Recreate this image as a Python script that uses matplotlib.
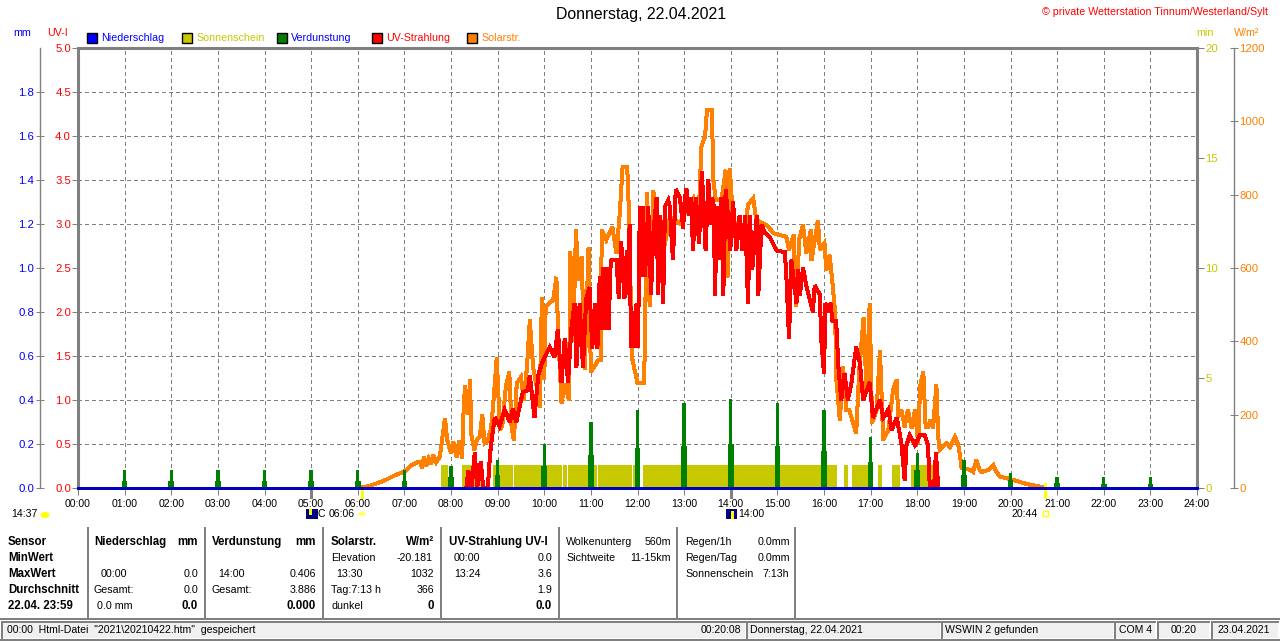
import matplotlib

matplotlib.use("Agg")
import matplotlib.pyplot as plt
from matplotlib.lines import Line2D
from matplotlib.patches import Circle, Ellipse, Rectangle

W, H = 1280, 641
plt.rcParams["font.family"] = ["Liberation Sans", "DejaVu Sans"]
plt.rcParams["font.size"] = 7.7

GRAY = "#808080"
BLUE = "#0000FF"
OLIVE = "#C8C800"
GREEN = "#008000"
RED = "#FF0000"
ORANGE = "#FF8000"

hour_labels = [f"{h:02d}:00" for h in range(25)]
uv_ticks = [0.0, 0.5, 1.0, 1.5, 2.0, 2.5, 3.0, 3.5, 4.0, 4.5, 5.0]
mm_ticks = [0.0, 0.2, 0.4, 0.6, 0.8, 1.0, 1.2, 1.4, 1.6, 1.8]
min_ticks = [0, 5, 10, 15, 20]
solar_ticks = [0, 200, 400, 600, 800, 1000, 1200]

# Niederschlag: no rain all day
rain_hours = [0, 24]
rain_mm = [0.0, 0.0]

# Sonnenschein blocks, start / end in hours, minutes of sun per minute
sun_start = [7.78, 8.24, 8.90, 9.35, 10.40, 10.51, 11.15, 11.90, 12.12, 16.43, 16.60, 17.16, 17.46, 17.86]
sun_end = [7.93, 8.69, 9.33, 10.38, 10.49, 11.13, 11.88, 12.05, 16.28, 16.51, 16.98, 17.24, 17.63, 18.46]
sun_min = [1.05] * 14

# Verdunstung: narrow hourly spike and wider low foot
verd_hours = list(range(1, 24))
verd_top = [0.08, 0.08, 0.08, 0.08, 0.08, 0.08, 0.08, 0.10, 0.127, 0.20, 0.30, 0.355, 0.386,
            0.406, 0.386, 0.355, 0.23, 0.16, 0.127, 0.07, 0.05, 0.05, 0.05]
verd_foot = [0.03, 0.03, 0.03, 0.03, 0.03, 0.03, 0.03, 0.05, 0.06, 0.10, 0.15, 0.18, 0.19,
             0.20, 0.19, 0.17, 0.12, 0.08, 0.06, 0.035, 0.025, 0.02, 0.02]

solar_h = [6.0, 6.2, 6.4, 6.6, 6.8, 7.0, 7.15, 7.3, 7.33, 7.38, 7.42, 7.47, 7.52, 7.57, 7.62, 7.68, 7.73, 7.76,
           7.87, 7.92, 8.0, 8.05,
           8.12, 8.18, 8.24, 8.26, 8.3, 8.36, 8.41, 8.43, 8.5, 8.55, 8.62, 8.67, 8.72, 8.79, 8.86, 8.92, 8.98,
           9.05, 9.1, 9.18, 9.25, 9.3, 9.35, 9.41, 9.5, 9.56, 9.63, 9.69, 9.76, 9.84, 9.9, 9.95, 10.0, 10.03,
           10.19, 10.26, 10.3, 10.37, 10.44, 10.53, 10.56, 10.62, 10.68, 10.73, 10.8, 10.87, 10.95, 11.0, 11.16,
           11.22, 11.23, 11.33, 11.46, 11.55, 11.62, 11.68, 11.78, 11.82, 11.88, 12.0, 12.14, 12.16, 12.2, 12.26,
           12.34, 12.48, 12.7, 12.9, 13.1, 13.2, 13.3, 13.37, 13.45, 13.49, 13.6, 13.62, 13.68, 13.8, 13.89,
           13.93, 13.98, 14.05, 14.3, 14.37, 14.48, 14.55, 14.77, 14.92, 15.19, 15.25, 15.35, 15.4, 15.47, 15.55,
           15.62, 15.72, 15.73, 15.87, 15.91, 16.01, 16.05, 16.12, 16.19, 16.24, 16.26, 16.34, 16.41, 16.48,
           16.54, 16.69, 16.76, 16.85, 16.91, 16.98, 17.03,
           17.13, 17.2, 17.27, 17.38, 17.48, 17.56, 17.59, 17.66, 17.73, 17.8,
           17.88, 17.95, 18.02, 18.06, 18.13, 18.18, 18.23, 18.28, 18.34, 18.41,
           18.45, 18.48, 18.63, 18.7, 18.81, 18.88, 18.91, 18.95, 19.02, 19.13,
           19.2, 19.27, 19.34, 19.38, 19.52, 19.63, 19.7, 19.77, 19.98, 20.34,
           20.66, 20.73]
solar_w = [0, 4, 12, 22, 35, 45, 62, 72, 72, 55, 84, 60, 80, 65, 90, 70, 80, 85,
           190, 130, 95, 125,
           85, 130, 80, 185, 280, 200, 295, 150, 104, 130, 140, 200, 122, 130, 163, 250, 355,
           158, 170, 280, 316, 163, 130, 286, 303, 240, 330, 458, 330, 275, 220, 520, 295, 494,
           513, 575, 422, 232, 283, 240, 644, 400, 704, 567, 630, 322, 657, 316, 349,
           349, 704, 676, 712, 640, 750, 875, 875, 740, 357, 286, 286, 404, 805, 494,
           812, 600, 740, 722, 770, 790, 700, 930, 960, 1030, 1030, 848, 785, 785, 867,
           575, 870, 730, 700, 772, 790, 730, 717, 695, 685, 650, 690, 494, 680, 717,
           640, 704, 620, 730, 650, 668, 594, 635, 548, 477, 303, 185, 330, 213,
           213, 150, 330, 466, 270, 504, 177,
           213, 376, 131, 158, 267, 295, 195, 213, 167, 213,
           163, 213, 122, 276, 317, 167, 167, 185, 163, 281,
           139, 104, 122, 112, 139, 117, 95, 54, 54, 49,
           44, 76, 49, 44, 49, 63, 44, 31, 25, 11,
           3, 0]

uv_h = [8.33, 8.37, 8.44, 8.51, 8.56, 8.64, 8.69, 8.79, 8.84, 8.89,
        8.94, 9.04, 9.15, 9.26, 9.33, 9.4, 9.47, 9.54, 9.65, 9.69,
        9.79, 9.87, 9.94, 10.01, 10.12, 10.22, 10.29, 10.37, 10.44, 10.51,
        10.58, 10.65, 10.69, 10.76, 10.83, 10.9, 10.97, 11.03, 11.09, 11.14,
        11.19, 11.22, 11.26, 11.3, 11.34, 11.38, 11.42, 11.44, 11.55, 11.6,
        11.65, 11.72, 11.77, 11.8, 11.83, 11.86, 11.9, 11.94, 11.98, 12.01,
        12.05, 12.08, 12.11, 12.16, 12.23, 12.29, 12.34, 12.41, 12.44, 12.49,
        12.55, 12.59, 12.66, 12.69, 12.76, 12.82, 12.91, 12.98, 13.0, 13.02,
        13.05, 13.1, 13.15, 13.19, 13.25, 13.32, 13.38, 13.46, 13.52, 13.56,
        13.6, 13.64, 13.66, 13.71, 13.76, 13.8, 13.84, 13.89, 13.94, 13.99,
        14.05, 14.12, 14.19, 14.25, 14.31, 14.37, 14.41, 14.46, 14.56, 14.59,
        14.66, 14.73, 14.84, 14.98, 15.16, 15.19, 15.25, 15.3, 15.41, 15.44,
        15.48, 15.55, 15.62, 15.76, 15.8, 15.91, 15.94, 16.0, 16.03, 16.09,
        16.14, 16.18, 16.26, 16.31, 16.37, 16.44, 16.51, 16.59, 16.69, 16.77,
        16.84, 16.98, 17.05, 17.2, 17.27, 17.38, 17.45, 17.56, 17.66, 17.73,
        17.77, 17.84, 17.95, 18.06, 18.16, 18.23, 18.27, 18.36, 18.4, 18.45]
uv_i = [0.0, 0.2, 0.0, 0.4, 0.0, 0.3, 0.0, 0.0, 0.4, 0.62,
        0.8, 0.7, 0.89, 0.75, 0.9, 0.75, 0.92, 1.09, 1.11, 1.28,
        0.8, 1.28, 1.4, 1.49, 1.6, 1.49, 1.8, 1.2, 1.7, 1.2,
        1.8, 2.1, 1.37, 2.1, 1.37, 2.15, 2.28, 1.59, 2.1, 1.59,
        2.4, 1.8, 2.5, 1.8, 2.5, 1.8, 2.5, 2.59, 2.59, 2.15,
        2.8, 2.15, 2.7, 2.2, 2.99, 1.6, 2.0, 1.6, 2.1, 1.6,
        3.2, 2.4, 3.2, 2.4, 3.2, 2.2, 2.9, 3.3, 2.2, 3.1,
        2.1, 3.2, 3.27, 3.2, 2.6, 3.39, 3.3, 2.95, 3.2, 3.3,
        3.4, 3.1, 3.3, 2.7, 3.3, 2.78, 3.6, 2.7, 3.5, 3.0,
        3.3, 3.2, 2.19, 3.2, 2.6, 3.3, 2.19, 3.39, 3.1, 2.7,
        3.25, 2.7, 3.1, 2.7, 3.1, 2.1, 3.1, 2.48, 3.1, 2.19,
        2.99, 2.9, 2.85, 2.7, 2.68, 2.44, 1.7, 2.59, 2.1, 2.48,
        2.19, 2.5, 2.3, 2.0, 2.3, 2.2, 1.7, 1.3, 2.1, 2.0,
        2.1, 1.9, 1.9, 1.37, 1.0, 1.3, 1.0, 1.2, 1.6, 1.42,
        1.0, 1.2, 0.8, 1.0, 0.8, 0.89, 0.66, 0.8, 0.51, 0.09,
        0.49, 0.6, 0.49, 0.6, 0.6, 0.49, 0.0, 0.0, 0.4, 0.0]


def fx(x):
    return x / W


def fy(y):
    return 1 - y / H


def label(x, y, s, **kw):
    fig.text(fx(x), fy(y), s, va="center", **kw)


def seg(x0, y0, x1, y1, color=GRAY, lw=1.44, **kw):
    fig.add_artist(Line2D([fx(x0), fx(x1)], [fy(y0), fy(y1)], color=color, lw=lw, antialiased=False, **kw))


def box(x0, y0, x1, y1, fc, ec="none", lw=0.72):
    fig.add_artist(Rectangle((fx(x0), fy(y1)), (x1 - x0) / W, (y1 - y0) / H, fc=fc, ec=ec, lw=lw,
                             transform=fig.transFigure))


fig = plt.figure(figsize=(W / 100, H / 100), dpi=100)
ax_min = fig.add_axes([fx(78), fy(488), (1197 - 78) / W, (488 - 48) / H])
ax_w = ax_min.twinx()
ax_uv = ax_min.twinx()
ax_mm = ax_min.twinx()
for z, a in enumerate([ax_min, ax_w, ax_uv, ax_mm]):
    a.set_zorder(z)
    a.set_xlim(0, 24)
    if z:
        a.patch.set_visible(False)
        for s in a.spines.values():
            s.set_visible(False)

ax_min.set_ylim(0, 20)
ax_w.set_ylim(0, 1200)
ax_uv.set_ylim(0, 5)
ax_mm.set_ylim(0, 2)

# frame and grid, the horizontal grid follows the UV scale and not the min ticks
for name in ["left", "top", "right"]:
    ax_min.spines[name].set_color(GRAY)
    ax_min.spines[name].set_linewidth(2.2)
ax_min.spines["bottom"].set_visible(False)
ax_min.set_xticks(range(25))
ax_min.set_xticklabels(hour_labels)
ax_min.tick_params(axis="x", length=5, width=0.72, color=GRAY, pad=3, labelsize=7.6)
ax_min.set_yticks(min_ticks)
ax_min.set_yticks([2, 4, 6, 8, 10, 12, 14, 16, 18], minor=True)
ax_min.yaxis.tick_right()
ax_min.tick_params(axis="y", which="major", length=5, width=0.72, color=GRAY, labelcolor=OLIVE, pad=1, labelsize=8.2)
ax_min.tick_params(axis="y", which="minor", length=0)
ax_min.grid(True, axis="x", color=GRAY, lw=0.72, ls=(0, (4, 3)), antialiased=False)
ax_min.grid(True, axis="y", which="minor", color=GRAY, lw=0.72, ls=(0, (4, 3)), antialiased=False)
ax_min.set_axisbelow(True)

ax_w.set_yticks(solar_ticks)
ax_w.spines["right"].set_visible(True)
ax_w.spines["right"].set_position(("outward", 26.6))
ax_w.spines["right"].set_color(GRAY)
ax_w.spines["right"].set_linewidth(1.0)
ax_w.tick_params(axis="y", direction="inout", length=6, width=0.72, color=GRAY, labelcolor=ORANGE, pad=1, labelsize=8.2)

ax_uv.yaxis.tick_left()
ax_uv.set_yticks(uv_ticks)
ax_uv.set_yticklabels([f"{v:.1f}" for v in uv_ticks])
ax_uv.tick_params(axis="y", length=4, width=0.72, color=GRAY, labelcolor=RED, pad=1, labelsize=8.2)

ax_mm.yaxis.tick_left()
ax_mm.set_yticks(mm_ticks)
ax_mm.set_yticklabels([f"{v:.1f}" for v in mm_ticks])
ax_mm.spines["left"].set_visible(True)
ax_mm.spines["left"].set_position(("outward", 27.4))
ax_mm.spines["left"].set_color(GRAY)
ax_mm.spines["left"].set_linewidth(1.0)
ax_mm.tick_params(axis="y", direction="inout", length=6, width=0.72, color=GRAY, labelcolor=BLUE, pad=1, labelsize=8.2)

# series
widths = [e - s for s, e in zip(sun_start, sun_end)]
ax_min.bar(sun_start, sun_min, width=widths, align="edge", color=OLIVE, lw=0, zorder=2)
ax_w.plot(solar_h, solar_w, color=ORANGE, lw=2.16, antialiased=False, solid_joinstyle="miter")
ax_uv.plot(uv_h, uv_i, color=RED, lw=2.16, antialiased=False, solid_joinstyle="miter")
ax_mm.bar(verd_hours, verd_top, width=0.075, color=GREEN, lw=0)
ax_mm.bar(verd_hours, verd_foot, width=0.12, color=GREEN, lw=0)
ax_mm.plot(rain_hours, rain_mm, color="#0000C0", lw=1.0, antialiased=False, clip_on=False)

# header
label(641, 15, "Donnerstag, 22.04.2021", ha="center", fontsize=11.4)
label(1268, 12, "© private Wetterstation Tinnum/Westerland/Sylt", ha="right", color=RED, fontsize=7.65)
label(22, 33, "mm", ha="center", color=BLUE)
label(57, 33, "UV-I", ha="center", color=RED)
label(1205, 33, "min", ha="center", color=OLIVE)
label(1247, 33, "W/m²", ha="center", color=ORANGE)

legend_names = ["Niederschlag", "Sonnenschein", "Verdunstung", "UV-Strahlung", "Solarstr."]
legend_boxes = [BLUE, OLIVE, GREEN, RED, ORANGE]
legend_texts = [BLUE, OLIVE, BLUE, RED, ORANGE]
for i, name in enumerate(legend_names):
    x = 87 + 95 * i
    box(x, 33, x + 10, 43, legend_boxes[i], ec="black", lw=1.0)
    label(x + 14, 38, name, color=legend_texts[i])

# sun / moon markers below the axis
label(11, 514, "14:37", fontsize=7.6)
fig.add_artist(Ellipse((fx(45), fy(515)), 9 / W, 6 / H, fc="#FFFF00", ec="none", transform=fig.transFigure))
box(306, 509, 318, 519, "#000080")
box(309, 509, 312, 515, "#FFFF00")
label(318, 514, "C", fontsize=7.6)
label(329, 514, "06:06", fontsize=7.6)
fig.add_artist(Circle((fx(362), fy(514)), 4 / W, fc="#FFFF60", ec="none", transform=fig.transFigure))
box(726, 509, 737, 519, "#000080")
box(731, 511, 734, 519, "#FFFF00")
label(738, 514, "14:00", fontsize=7.6)
label(1012, 514, "20:44", fontsize=7.6)
box(1043, 511, 1048, 516, "white", ec="#FFFF00", lw=1.0)
seg(1045, 484, 1045, 497, color="#FFFF00", lw=0.9)
seg(311, 488, 311, 497, lw=2.0)
seg(362, 488, 362, 497, color="#FFFF00", lw=0.9)
seg(731, 488, 731, 497, lw=2.0)

# summary table
for x in [88, 205, 323, 441, 559, 677, 795]:
    seg(x, 528, x, 617)
rows = [542, 558, 574, 590, 606]
for y, s in zip(rows, ["Sensor", "MinWert", "MaxWert", "Durchschnitt", "22.04. 23:59"]):
    label(8, y, s, fontweight="bold", fontsize=8.3)

bold_cells = [(94, 0, "Niederschlag", "left"), (198, 0, "mm", "right"), (212, 0, "Verdunstung", "left"),
              (316, 0, "mm", "right"), (331, 0, "Solarstr.", "left"), (434, 0, "W/m²", "right"),
              (449, 0, "UV-Strahlung UV-I", "left"), (198, 4, "0.0", "right"), (316, 4, "0.000", "right"),
              (434, 4, "0", "right"), (552, 4, "0.0", "right")]
for x, r, s, ha in bold_cells:
    label(x, rows[r], s, ha=ha, fontweight="bold", fontsize=8.3)

cells = [(101, 2, "00:00", "left"), (198, 2, "0.0", "right"), (94, 3, "Gesamt:", "left"), (198, 3, "0.0", "right"),
         (97, 4, "0.0 mm", "left"), (218, 2, "14:00", "left"), (316, 2, "0.406", "right"),
         (212, 3, "Gesamt:", "left"), (316, 3, "3.886", "right"), (331, 1, "Elevation", "left"),
         (433, 1, "-20.181", "right"), (336, 2, "13:30", "left"), (434, 2, "1032", "right"),
         (331, 3, "Tag:7:13 h", "left"), (434, 3, "366", "right"), (331, 4, "dunkel", "left"),
         (454, 1, "00:00", "left"), (552, 1, "0.0", "right"), (454, 2, "13:24", "left"), (552, 2, "3.6", "right"),
         (552, 3, "1.9", "right"), (566, 0, "Wolkenunterg", "left"), (671, 0, "560m", "right"),
         (566, 1, "Sichtweite", "left"), (671, 1, "11-15km", "right"), (685, 0, "Regen/1h", "left"),
         (790, 0, "0.0mm", "right"), (685, 1, "Regen/Tag", "left"), (790, 1, "0.0mm", "right"),
         (685, 2, "Sonnenschein", "left"), (789, 2, "7:13h", "right")]
for x, r, s, ha in cells:
    label(x, rows[r], s, ha=ha)

# status bar
seg(0, 619, 1280, 619)
seg(0, 640, 1280, 640)
panels = [(2, 745), (747, 940), (942, 1113), (1115, 1155), (1158, 1209), (1212, 1278)]
for x0, x1 in panels:
    box(x0, 621, x1, 638, "#F0F0F0")
    seg(x0, 622, x1, 622)
    seg(x0, 622, x0, 638)
label(7, 630, '00:00  Html-Datei  "2021\\20210422.htm"  gespeichert', fontsize=7.6)
label(741, 630, "00:20:08", ha="right", fontsize=7.6)
label(750, 630, "Donnerstag, 22.04.2021", fontsize=7.6)
label(945, 630, "WSWIN 2 gefunden", fontsize=7.6)
label(1119, 630, "COM 4", fontsize=7.6)
label(1171, 630, "00:20", fontsize=7.6)
label(1218, 630, "23.04.2021", fontsize=7.6)

fig.savefig("out.png", dpi=100)
